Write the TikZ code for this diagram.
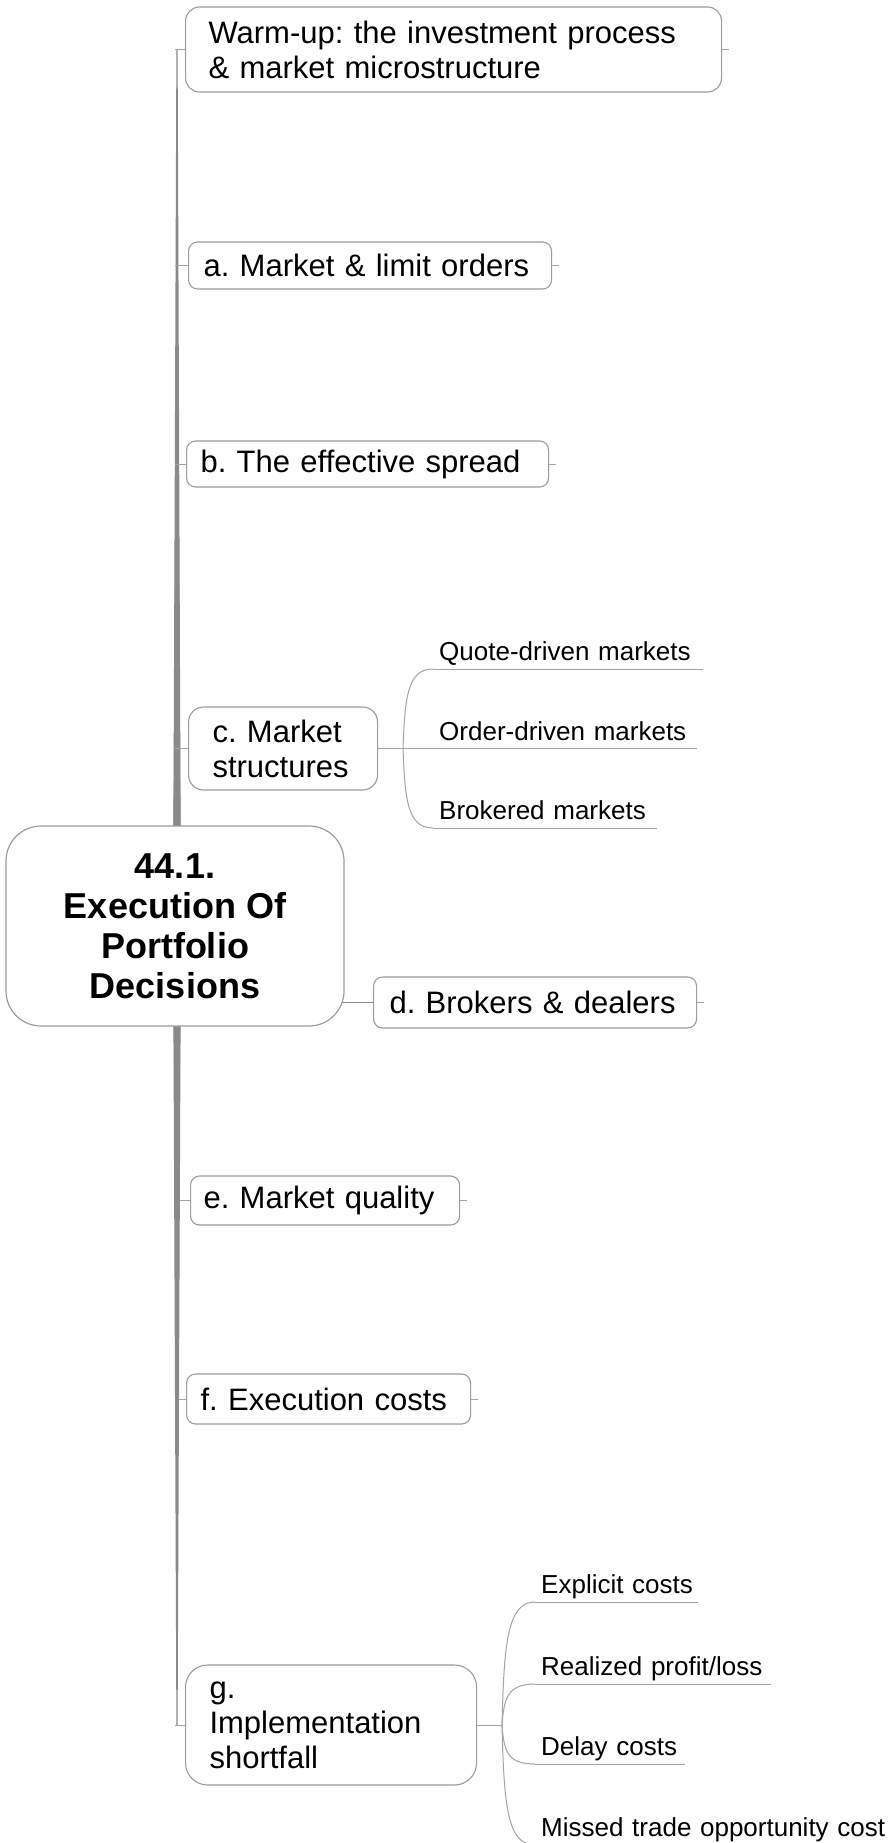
\documentclass[tikz,border=0pt]{standalone}
\usepackage{fontspec}
\setmainfont{Liberation Sans}
\usetikzlibrary{calc}
\pgfdeclarelayer{bg}
\pgfsetlayers{bg,main}
\definecolor{trunkc}{HTML}{8A8A8A}
\definecolor{linec}{HTML}{A4A4A4}
\definecolor{boxc}{HTML}{9C9C9C}
\begin{document}
\frenchspacing
\begin{tikzpicture}[x=1pt,y=-1pt,
  topic/.style={draw=boxc, line width=1.1pt, fill=white, rounded corners=9pt,
    font=\fontsize{31}{35}\selectfont\frenchspacing, align=left, anchor=west, inner ysep=0pt},
  rootbox/.style={draw=boxc, line width=1.2pt, fill=white, rounded corners=35pt,
    font=\fontsize{36}{40}\selectfont\bfseries, align=center,
    minimum width=338pt, minimum height=200pt},
  subline/.style={draw=linec, line width=1pt},
  stubline/.style={draw=linec, line width=1pt},
  sub/.style={anchor=south west, inner xsep=6pt, inner ysep=2pt, text depth=6pt,
    text height=19pt, font=\fontsize{26}{30}\selectfont\frenchspacing, align=left,
    append after command={(\tikzlastnode.south west) edge[subline] (\tikzlastnode.south east)}}
]
\begin{pgfonlayer}{bg}
\fill[white] (0,0) rectangle (890,1843);
\end{pgfonlayer}
\useasboundingbox (0,0) rectangle (890,1843);

% root
\node[rootbox] (root) at (175,926) {44.1.\\Execution Of\\Portfolio\\Decisions};

% main topics
\node[topic, minimum height=85pt, text width=490pt, inner xsep=23pt, rounded corners=14pt] (wu) at (185,49.5)
  {\mbox{Warm-up: the investment process}\\\mbox{\& market microstructure}};
\node[topic, minimum height=47pt, text width=333pt, inner xsep=15pt] (a) at (188,265.5) {\mbox{a. Market \& limit orders}};
\node[topic, minimum height=46pt, text width=334pt, inner xsep=14pt] (b) at (186,464) {\mbox{b. The effective spread}};
\node[topic, minimum height=83pt, text width=141pt, inner xsep=24pt, rounded corners=15pt] (c) at (188,748.5) {\mbox{c. Market}\\\mbox{structures}};
\node[topic, minimum height=51pt, text width=291pt, inner xsep=16pt] (d) at (373,1002.5) {\mbox{d. Brokers \& dealers}};
\node[topic, minimum height=49pt, text width=243pt, inner xsep=13pt] (e) at (190,1200.5) {\mbox{e. Market quality}};
\node[topic, minimum height=50pt, text width=256pt, inner xsep=14pt] (f) at (186,1399) {\mbox{f. Execution costs}};
\node[topic, minimum height=120pt, text width=243pt, inner xsep=24pt, rounded corners=22pt] (g) at (185,1725) {\mbox{g.}\\\mbox{Implementation}\\\mbox{shortfall}};

% subtopics
\node[sub, text width=258pt] (q) at (433,669) {\mbox{Quote-driven markets}};
\node[sub, text width=252pt] (o) at (433,748.5) {\mbox{Order-driven markets}};
\node[sub, text width=212pt] (br) at (433,828) {\mbox{Brokered markets}};
\node[sub, text width=151pt] (ex) at (535,1602) {\mbox{Explicit costs}};
\node[sub, text width=224pt] (rp) at (535,1684) {\mbox{Realized profit/loss}};
\node[sub, text width=138pt] (dc) at (535,1764) {\mbox{Delay costs}};
\node[sub, text width=360pt] (mt) at (535,1845) {\mbox{Missed trade opportunity cost}};

\coordinate (hub) at (177,926);
\coordinate (jc) at (403,748.5);
\coordinate (jg) at (502,1725);

\begin{pgfonlayer}{bg}
\foreach \n in {wu,a,b,c,e,f,g}{
  \fill[trunkc] ($(hub)+(-4,0)$) -- ($(hub |- \n.west)+(-0.6,0)$) -- ($(hub |- \n.west)+(0.6,0)$) -- ($(hub)+(4,0)$) -- cycle;
  \draw[stubline] ($(hub |- \n.west)+(-2,0)$) -- (\n.west);
}
\draw[trunkc, line width=1.4pt] (root.center |- d.west) -- (d.west);
\end{pgfonlayer}

\foreach \n in {wu,a,b,d,e,f}{
  \draw[stubline] (\n.east) -- ++(7,0);
}

\draw[subline] (c.east) -- (jc);
\draw[subline] (jc) -- (o.south west);
\draw[subline] (jc) .. controls +(2,-50) and +(-26,0) .. (q.south west);
\draw[subline] (jc) .. controls +(2,50) and +(-26,0) .. (br.south west);
\draw[subline] (g.east) -- (jg);
\draw[subline] (jg) .. controls +(2,-80) and +(-28,0) .. (ex.south west);
\draw[subline] (jg) .. controls +(2,-26) and +(-28,0) .. (rp.south west);
\draw[subline] (jg) .. controls +(2,26) and +(-28,0) .. (dc.south west);
\draw[subline] (jg) .. controls +(2,80) and +(-28,0) .. (mt.south west);
\end{tikzpicture}
\end{document}
